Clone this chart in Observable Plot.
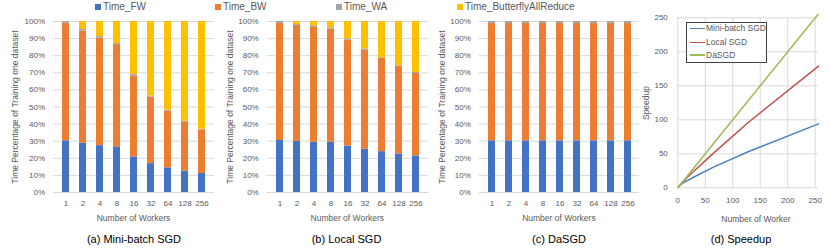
<!DOCTYPE html>
<html>
<head>
<meta charset="utf-8">
<script src="https://cdn.jsdelivr.net/npm/d3@7"></script>
<script src="https://cdn.jsdelivr.net/npm/@observablehq/plot@0.6"></script>
<style>
  body { margin: 0; background: #fff; font-family: "Liberation Sans", Arial, sans-serif; }
  #root { position: relative; width: 830px; height: 252px; overflow: hidden; background: #fff; }
  .panel { position: absolute; top: 14px; }
  .t { position: absolute; white-space: nowrap; transform: translate(-50%, -50%); color: #595959; font-size: 8.5px; line-height: 1; }
  .rot { transform: translate(-50%, -50%) rotate(-90deg); }
  .cap { color: #000; font-size: 11px; }
  .lg { position: absolute; white-space: nowrap; color: #595959; font-size: 10px; line-height: 1; }
  .sq { position: absolute; width: 6px; height: 6px; }
</style>
</head>
<body>
<div id="root"></div>
<script>
// ---------- data ----------
const workers = ["1", "2", "4", "8", "16", "32", "64", "128", "256"];
const seriesNames = ["Time_FW", "Time_BW", "Time_WA", "Time_ButterflyAllReduce"];
const seriesColors = ["#4472C4", "#ED7D31", "#A5A5A5", "#FFC000"];

// (a) Mini-batch SGD, percentage of each part
const miniFW = [30.2, 28.8, 27.4, 26.7, 20.8, 16.9, 14.4, 12.5, 11.1];
const miniBW = [68.8, 65.6, 62.9, 59.8, 47.2, 38.9, 33.3, 28.9, 25.5];
const miniWA = [1.0, 0.9, 0.9, 0.6, 1.0, 0.6, 0.5, 0.4, 0.4];
const miniAR = [0, 4.7, 8.8, 12.9, 31.0, 43.6, 51.8, 58.2, 63.0];

// (b) Local SGD
const localFW = [30.4, 29.8, 29.4, 29.4, 27.2, 25.3, 23.9, 22.6, 21.4];
const localBW = [68.4, 67.9, 67.1, 66.1, 61.9, 57.8, 54.5, 51.1, 48.2];
const localWA = [1.2, 0.5, 1.0, 0.8, 0.8, 0.8, 0.4, 0.4, 0.6];
const localAR = [0, 1.8, 2.5, 3.7, 10.1, 16.1, 21.2, 25.9, 29.8];

// (c) DaSGD
const daFW = [30.2, 30.2, 30.2, 30.2, 30.2, 30.2, 30.2, 30.2, 30.2];
const daBW = [68.6, 68.6, 68.6, 68.6, 68.6, 68.6, 68.6, 68.6, 68.6];
const daWA = [1.2, 1.2, 1.2, 1.2, 1.2, 1.2, 1.2, 1.2, 1.2];
const daAR = [0, 0, 0, 0, 0, 0, 0, 0, 0];

const pctTicks = [0, 10, 20, 30, 40, 50, 60, 70, 80, 90, 100];

// (d) Speedup
const speedWorkers = [1, 2, 4, 8, 16, 32, 64, 128, 256];
const speedNames = ["Mini-batch SGD", "Local SGD", "DaSGD"];
const speedColors = ["#4F81BD", "#C0504D", "#9BBB59"];
const miniSpeed = [1, 1.9, 3.6, 6.5, 10, 17, 30, 53, 94];
const localSpeed = [1, 2, 3.9, 7.8, 14.3, 26.6, 50.3, 96, 179];
const daSpeed = [1, 2, 4, 8, 16, 32, 64, 128, 256];
const speedTicks = [0, 50, 100, 150, 200, 250];

// ---------- helpers ----------
const root = document.getElementById("root");
function addText(txt, x, y, cls) {
  const d = document.createElement("div");
  d.className = "t " + (cls || "");
  d.textContent = txt;
  d.style.left = x + "px";
  d.style.top = y + "px";
  root.appendChild(d);
}

// ---------- top legend ----------
const legX = [95, 215, 336, 457];
seriesNames.forEach((n, i) => {
  const s = document.createElement("div");
  s.className = "sq";
  s.style.left = legX[i] + "px";
  s.style.top = "4px";
  s.style.background = seriesColors[i];
  root.appendChild(s);
  const t = document.createElement("div");
  t.className = "lg";
  t.textContent = n;
  t.style.left = (legX[i] + 8) + "px";
  t.style.top = "2px";
  root.appendChild(t);
});

// ---------- stacked bar panels ----------
const panels = [
  {left: 0, width: 222, ml: 53, mr: 8, parts: [miniFW, miniBW, miniWA, miniAR], ylab: 15, cx: 133.5, cap: "(a) Mini-batch SGD", capx: 134},
  {left: 222, width: 208, ml: 44.7, mr: 2, parts: [localFW, localBW, localWA, localAR], ylab: 230, cx: 347.3, cap: "(b) Local SGD", capx: 346.5},
  {left: 430, width: 210, ml: 48.8, mr: 1.1, parts: [daFW, daBW, daWA, daAR], ylab: 441.7, cx: 558.9, cap: "(c) DaSGD", capx: 559}
];

panels.forEach(p => {
  const rows = [];
  workers.forEach((w, i) => {
    seriesNames.forEach((s, k) => rows.push({workers: w, series: s, value: p.parts[k][i]}));
  });
  const chart = Plot.plot({
    width: p.width,
    height: 214,
    marginLeft: p.ml,
    marginRight: p.mr,
    marginTop: 7,
    marginBottom: 36,
    style: {fontFamily: "'Liberation Sans', Arial, sans-serif", fontSize: "8px", color: "#595959", background: "transparent"},
    x: {type: "band", domain: workers, paddingInner: 0.61, paddingOuter: 0.305},
    y: {domain: [0, 100]},
    color: {domain: seriesNames, range: seriesColors},
    marks: [
      Plot.gridY({ticks: pctTicks, stroke: "#D9D9D9", strokeOpacity: 1}),
      Plot.barY(rows, {x: "workers", y: "value", fill: "series"}),
      Plot.axisY({ticks: pctTicks, tickFormat: d => d + "%", tickSize: 0, tickPadding: 8.5, label: null, fontSize: 8}),
      Plot.axisX({tickSize: 0, tickPadding: 8, label: null, fontSize: 8})
    ]
  });
  chart.classList.add("panel");
  chart.style.left = p.left + "px";
  root.appendChild(chart);
  addText("Time Percentage of Training one dataset", p.ylab, 107, "rot");
  addText("Number of Workers", p.cx, 218);
  addText(p.cap, p.capx, 239, "cap");
});

// ---------- speedup panel ----------
const speedRows = [];
[miniSpeed, localSpeed, daSpeed].forEach((arr, k) => {
  speedWorkers.forEach((w, i) => speedRows.push({workers: w, speedup: arr[i], series: speedNames[k]}));
});
const sp = Plot.plot({
  width: 190,
  height: 214,
  marginLeft: 37.3,
  marginRight: 12,
  marginTop: 3.3,
  marginBottom: 40.7,
  style: {fontFamily: "'Liberation Sans', Arial, sans-serif", fontSize: "8px", color: "#595959", background: "transparent"},
  x: {domain: [0, 256]},
  y: {domain: [0, 250]},
  color: {domain: speedNames, range: speedColors},
  marks: [
    Plot.gridX({ticks: speedTicks, stroke: "#D9D9D9", strokeOpacity: 1}),
    Plot.gridY({ticks: speedTicks, stroke: "#D9D9D9", strokeOpacity: 1}),
    Plot.line(speedRows, {x: "workers", y: "speedup", stroke: "series", strokeWidth: 1.5}),
    Plot.axisY({ticks: speedTicks, tickSize: 0, tickPadding: 10, label: null, fontSize: 8}),
    Plot.axisX({ticks: speedTicks, tickSize: 0, tickPadding: 9.5, label: null, fontSize: 8})
  ]
});
sp.classList.add("panel");
sp.style.left = "640px";
root.appendChild(sp);
addText("Speedup", 646, 103, "rot");
addText("Number of Worker", 756, 219);
addText("(d) Speedup", 741, 239, "cap");

// legend box inside speedup panel
const box = document.createElement("div");
box.style.cssText = "position:absolute;left:686px;top:21.7px;width:79px;height:39px;border:1px solid #404040;background:#fff;";
root.appendChild(box);
const entryY = [28.3, 42.3, 55];
speedNames.forEach((n, i) => {
  const l = document.createElement("div");
  l.style.cssText = `position:absolute;left:690px;top:${entryY[i] - 0.75}px;width:15px;height:1.5px;background:${speedColors[i]};`;
  root.appendChild(l);
  const t = document.createElement("div");
  t.className = "lg";
  t.style.fontSize = "8.5px";
  t.style.left = "706px";
  t.style.top = (entryY[i] - 4.5) + "px";
  t.textContent = n;
  root.appendChild(t);
});
</script>
</body>
</html>
